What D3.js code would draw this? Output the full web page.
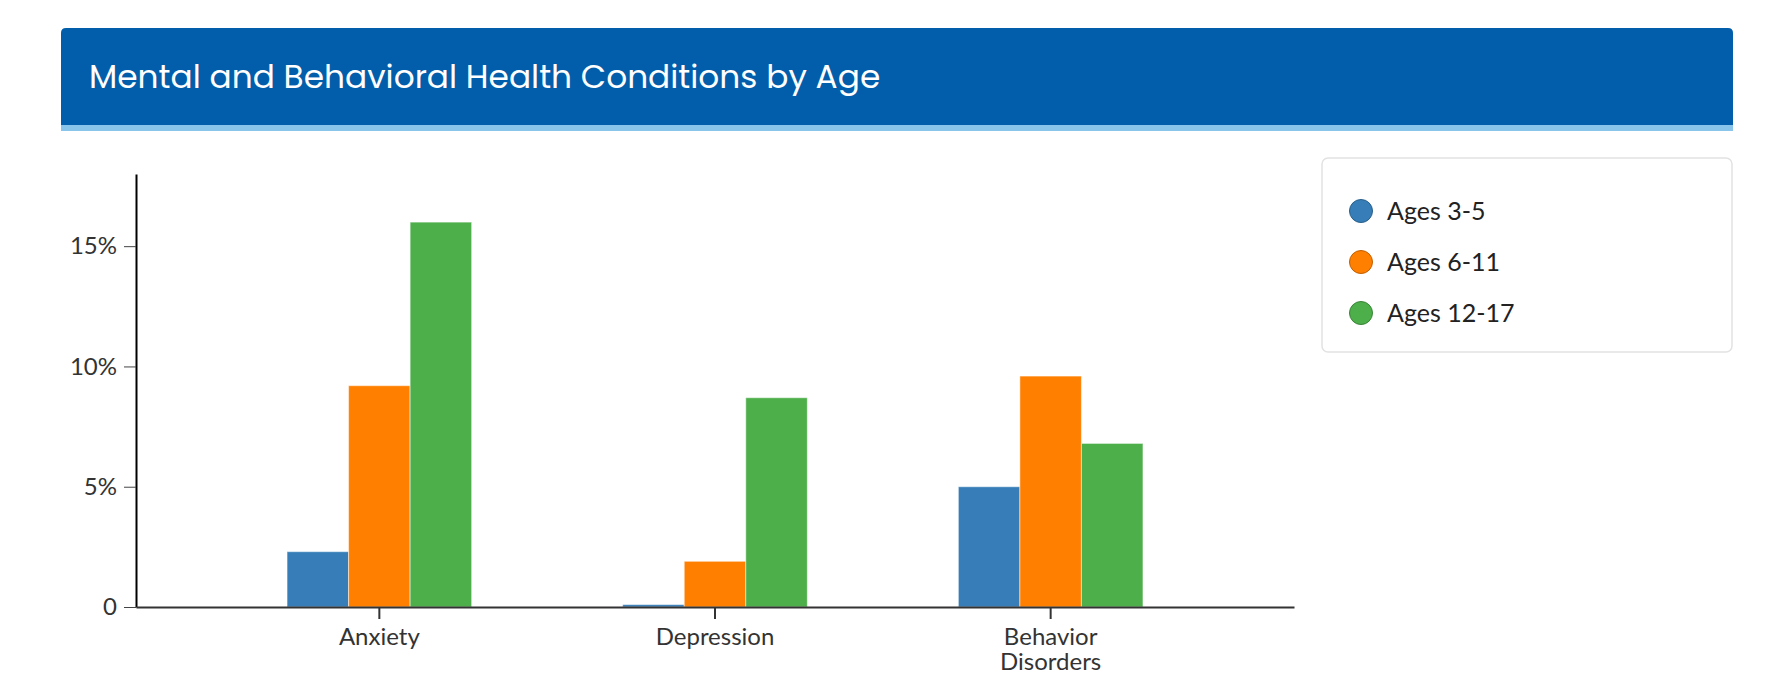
<!DOCTYPE html>
<html>
<head>
<meta charset="utf-8">
<script src="https://cdn.jsdelivr.net/npm/d3@7"></script>
<style>
  html, body { margin: 0; padding: 0; background: #fff; }
  svg { display: block; }
</style>
</head>
<body>
<svg id="chart" width="1783" height="700"></svg>
<script>
const title = "Mental and Behavioral Health Conditions by Age";
const categories = [["Anxiety"], ["Depression"], ["Behavior", "Disorders"]];
const seriesNames = ["Ages 3-5", "Ages 6-11", "Ages 12-17"];
const seriesColors = ["#377eb8", "#ff7f00", "#4daf4a"];
const ages3to5 = [2.3, 0.1, 5.0];
const ages6to11 = [9.2, 1.9, 9.6];
const ages12to17 = [16.0, 8.7, 6.8];
const yTicks = [0, 5, 10, 15];
const yMax = 18;

const seriesValues = [ages3to5, ages6to11, ages12to17];
const svg = d3.select("#chart");
const font = "Lato, 'Open Sans', sans-serif";

// Header
const hx = 61, hy = 28, hw = 1672, hh = 97;
svg.append("path")
  .attr("d", `M${hx},${hy + hh} V${hy + 5} Q${hx},${hy} ${hx + 5},${hy} H${hx + hw - 5} Q${hx + hw},${hy} ${hx + hw},${hy + 5} V${hy + hh} Z`)
  .attr("fill", "#025eaa");
svg.append("rect").attr("x", hx).attr("y", hy + hh).attr("width", hw).attr("height", 6).attr("fill", "#89c4ea");
svg.append("text")
  .attr("x", 89).attr("y", 88)
  .attr("fill", "#fff")
  .attr("font-family", "Poppins, Inter, 'Open Sans', sans-serif")
  .attr("font-size", 32.8)
  .attr("font-weight", 400)
  .text(title);

// Scales
const catKeys = categories.map(c => c.join(" "));
const x0 = d3.scaleBand().domain(catKeys).range([136, 1294]).padding(0.45);
const x1 = d3.scaleBand().domain(seriesNames).range([0, x0.bandwidth()]);
const y = d3.scaleLinear().domain([0, yMax]).range([607, 174]);

// Bars
const g = svg.append("g");
catKeys.forEach((cat, ci) => {
  const grp = g.append("g").attr("transform", `translate(${x0(cat)},0)`);
  grp.selectAll("rect")
    .data(seriesNames.map((s, si) => ({ s, si, v: seriesValues[si][ci] })))
    .join("rect")
    .attr("x", d => x1(d.s))
    .attr("y", d => y(d.v))
    .attr("width", x1.bandwidth())
    .attr("height", d => y(0) - y(d.v))
    .attr("fill", d => seriesColors[d.si])
    .attr("stroke", "#fff")
    .attr("stroke-opacity", 0.5)
    .attr("stroke-width", 1);
});

// Y axis
const yAxis = svg.append("g")
  .attr("transform", "translate(136,0)")
  .call(d3.axisLeft(y).tickValues(yTicks).tickSize(12).tickSizeOuter(0).tickPadding(7)
    .tickFormat(d => d === 0 ? "0" : d + "%"));
yAxis.select(".domain").attr("stroke", "#000").attr("stroke-width", 2);
yAxis.selectAll(".tick line").attr("stroke", "#444").attr("stroke-width", 1);
yAxis.selectAll(".tick text").attr("fill", "#333").attr("font-family", font).attr("font-size", 24);

// X axis
const xAxis = svg.append("g")
  .attr("transform", "translate(0,607)")
  .call(d3.axisBottom(x0).tickSize(12).tickSizeOuter(0).tickPadding(9));
xAxis.select(".domain").attr("stroke", "#333").attr("stroke-width", 2);
xAxis.selectAll(".tick line").attr("stroke", "#333").attr("stroke-width", 2);
xAxis.selectAll(".tick text").each(function(d, i) {
  const t = d3.select(this).text(null)
    .attr("fill", "#333").attr("font-family", font).attr("font-size", 24);
  categories[i].forEach((line, li) => {
    t.append("tspan").attr("x", 0).attr("dy", li === 0 ? "0.71em" : "1.05em").text(line);
  });
});

// Legend
svg.append("rect")
  .attr("x", 1322).attr("y", 158).attr("width", 410).attr("height", 194)
  .attr("rx", 6).attr("fill", "#fff").attr("stroke", "#e2e2e2").attr("stroke-width", 1.5);
const leg = svg.append("g").selectAll("g").data(seriesNames).join("g")
  .attr("transform", (d, i) => `translate(1361,${211 + i * 51})`);
leg.append("circle").attr("r", 11.5)
  .attr("fill", (d, i) => seriesColors[i])
  .attr("stroke", (d, i) => d3.color(seriesColors[i]).darker(0.8))
  .attr("stroke-width", 1);
leg.append("text").attr("x", 26).attr("dy", "0.35em")
  .attr("fill", "#222").attr("font-family", font).attr("font-size", 25)
  .text(d => d);
</script>
</body>
</html>
